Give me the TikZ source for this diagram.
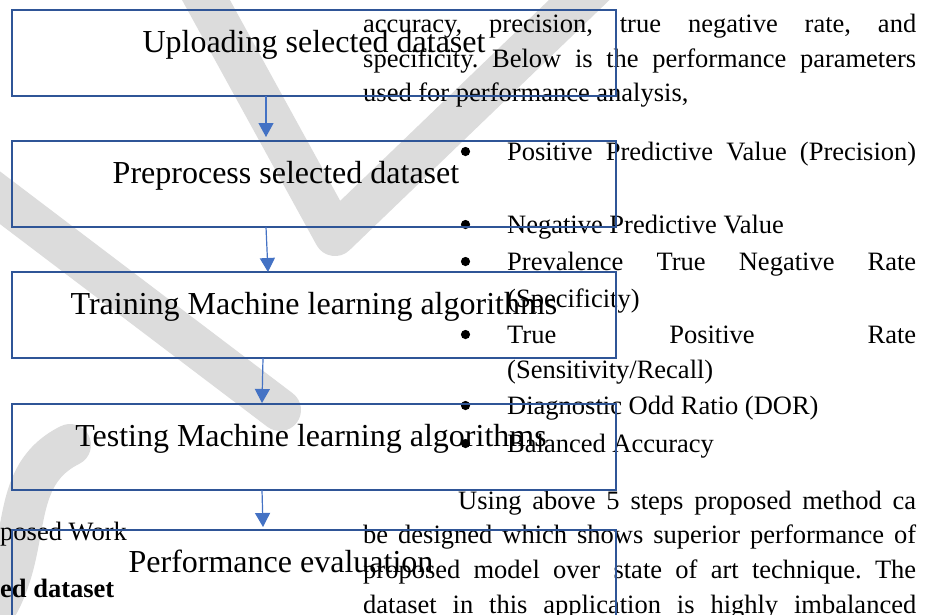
\documentclass[tikz,border=0pt]{standalone}
\usepackage{fontspec}
\setmainfont{Liberation Serif}
\usepackage{xcolor}
\definecolor{BoxBlue}{RGB}{47,85,151}
\definecolor{ArrowBlue}{RGB}{68,114,196}
\definecolor{MarkGray}{RGB}{220,220,220}
\usetikzlibrary{arrows.meta, positioning}
\frenchspacing
\tikzset{
  % Flow step box (frame only, text sits high)
  stepbox/.style={
    rectangle, draw=BoxBlue, line width=2.2pt,
    minimum width=604pt, inner sep=0pt, outer sep=0pt,
    text height=42pt, text depth=44pt,
    font=\fontsize{32}{38}\selectfont
  },
  % Arrows
  arr/.style={-{Triangle[length=14pt,width=15pt]}, line width=1.2pt, ArrowBlue},
  % Running text of the page
  bodytxt/.style={anchor=base west, inner sep=0pt, font=\fontsize{26.5}{36}\selectfont},
  % Watermark strokes
  wmark/.style={draw=MarkGray, line width=42pt, line cap=round, line join=round},
}

\begin{document}
\begin{tikzpicture}[x=1pt, y=-1pt]
  \useasboundingbox (0,0) rectangle (930,614);

  %% Watermark
  \draw[wmark] (195,-20) -- (335,235) -- (600,-20);
  \draw[wmark] (-30,175) -- (280,410);
  \draw[wmark] (70,445) .. controls (0,480) and (40,560) .. (-20,630);

  %% Page text (right column)
  \node[bodytxt] (p1) at (363,32)  {\makebox[553pt][s]{accuracy, precision, true negative rate, and}};
  \node[bodytxt] (p2) at (363,67)  {\makebox[553pt][s]{specificity. Below is the performance parameters}};
  \node[bodytxt] (p3) at (363,101) {used for performance analysis,};

  \foreach \yy/\txt [count=\i] in {160/{\makebox[409pt][s]{Positive Predictive Value (Precision)}},
                                   233/{Negative Predictive Value},
                                   270/{\makebox[409pt][s]{Prevalence True Negative Rate}},
                                   343/{\makebox[409pt][s]{True Positive Rate}},
                                   414/{Diagnostic Odd Ratio (DOR)},
                                   452/{Balanced Accuracy}}{
    \fill (465.5,\yy-8.5) circle (4.6pt);
    \node[bodytxt] (item\i) at (507,\yy) {\txt};
  }
  \node[bodytxt] (item3b) at (507,307) {(Specificity)};
  \node[bodytxt] (item4b) at (507,378) {(Sensitivity/Recall)};

  \node[bodytxt] (q1) at (458,509) {\makebox[458pt][s]{Using above 5 steps proposed method ca}};
  \node[bodytxt] (q2) at (363,543) {\makebox[553pt][s]{be designed which shows superior performance of}};
  \node[bodytxt] (q3) at (363,578) {\makebox[553pt][s]{proposed model over state of art technique. The}};
  \node[bodytxt] (q4) at (363,613) {\makebox[553pt][s]{dataset in this application is highly imbalanced}};

  %% Page text (left column)
  \node[bodytxt] (capt) at (0,540) {posed Work};
  \node[bodytxt, font=\fontsize{26.5}{36}\selectfont\bfseries] (head) at (0,597) {ed dataset};

  %% Flow steps
  \node[stepbox] (upload) at (314,53) {Uploading selected dataset};
  \node[stepbox, below=45pt of upload] (prep) {Preprocess selected dataset\hspace*{56pt}};
  \node[stepbox, below=45pt of prep] (train) {Training Machine learning algorithms};
  \node[stepbox, below=46pt of train] (test) {Testing Machine learning algorithms\hspace*{6pt}};
  \node[stepbox, below=40pt of test] (perf) {Performance evaluation\hspace*{66pt}};

  %% Arrows between steps
  \draw[arr] ([xshift=-48pt]upload.south) -- ([xshift=-48pt,yshift=4pt]prep.north);
  \draw[arr] ([xshift=-48pt]prep.south) -- ([xshift=-46pt]train.north);
  \draw[arr] ([xshift=-51pt]train.south) -- ([xshift=-52pt,yshift=1pt]test.north);
  \draw[arr] ([xshift=-52pt]test.south) -- ([xshift=-51pt,yshift=3pt]perf.north);

\end{tikzpicture}
\end{document}
